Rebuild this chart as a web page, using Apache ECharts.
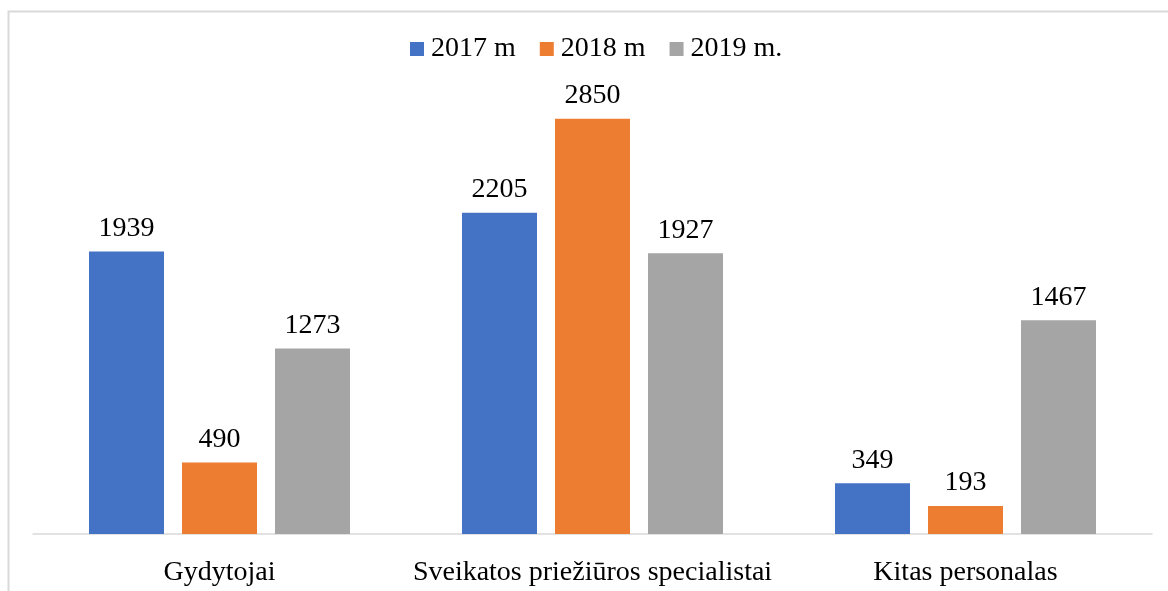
<!DOCTYPE html>
<html>
<head>
<meta charset="utf-8">
<script src="https://cdn.jsdelivr.net/npm/echarts@6/dist/echarts.min.js"></script>
<style>
  html, body { margin: 0; padding: 0; background: #fff; }
  #chart { width: 1168px; height: 591px; }
</style>
</head>
<body>
<div id="chart"></div>
<script>
// categories and series values
const categories = ["Gydytojai", "Sveikatos priežiūros specialistai", "Kitas personalas"];
const seriesNames = ["2017 m", "2018 m", "2019 m."];
const values2017 = [1939, 2205, 349];
const values2018 = [490, 2850, 193];
const values2019 = [1273, 1927, 1467];
const colors = ["#4472C4", "#ED7D31", "#A5A5A5"];

const font = "'Liberation Serif', 'Times New Roman', serif";
const chart = echarts.init(document.getElementById("chart"));

const makeSeries = (name, data, color) => ({
  name: name,
  type: "bar",
  data: data,
  barWidth: 75,
  barGap: "24%",
  itemStyle: { color: color },
  label: {
    show: true,
    position: "top",
    distance: 9,
    color: "#000",
    fontFamily: font,
    fontSize: 28,
  },
});

chart.setOption({
  animation: false,
  graphic: [
    {
      type: "rect",
      shape: { x: 8.5, y: 11.5, width: 1300, height: 700 },
      style: { fill: "none", stroke: "#d9d9d9", lineWidth: 2 },
      silent: true,
    },
  ],
  legend: {
    left: 405,
    top: 30,
    itemWidth: 14,
    itemHeight: 14,
    itemGap: 24,
    icon: "rect",
    textStyle: { fontFamily: font, fontSize: 28, color: "#000", padding: [0, 0, 0, 2] },
    data: seriesNames,
  },
  grid: { left: 33, right: 16, top: 97, bottom: 57 },
  xAxis: {
    type: "category",
    data: categories,
    axisLine: { lineStyle: { color: "#d9d9d9", width: 1.5 } },
    axisTick: { show: false },
    axisLabel: { color: "#000", fontFamily: font, fontSize: 28, margin: 25, interval: 0 },
  },
  yAxis: {
    type: "value",
    min: 0,
    max: 3000,
    show: false,
    splitLine: { show: false },
  },
  series: [
    makeSeries(seriesNames[0], values2017, colors[0]),
    makeSeries(seriesNames[1], values2018, colors[1]),
    makeSeries(seriesNames[2], values2019, colors[2]),
  ],
});
</script>
</body>
</html>
